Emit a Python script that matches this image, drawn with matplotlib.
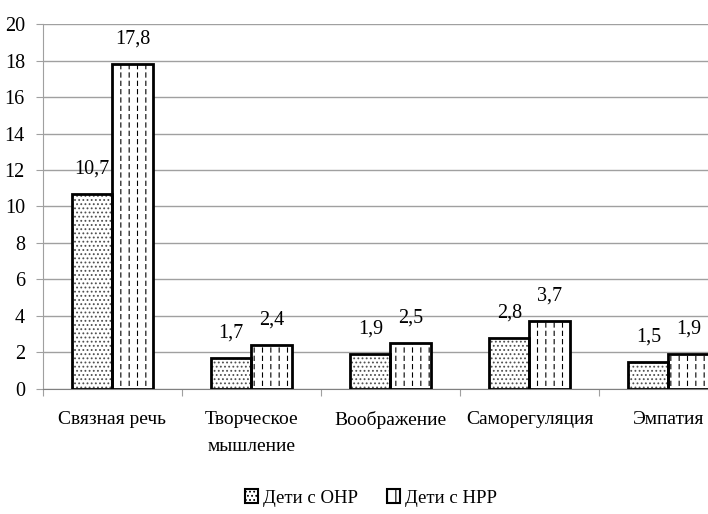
import matplotlib.pyplot as plt
from matplotlib.patches import Patch
import numpy as np

# Data
categories = ["Связная речь", "Творческое\nмышление", "Воображение", "Саморегуляция", "Эмпатия"]
onr = [10.7, 1.7, 1.9, 2.8, 1.5]
nrr = [17.8, 2.4, 2.5, 3.7, 1.9]
series_names = ["Дети с ОНР", "Дети с НРР"]
yticks = list(range(0, 21, 2))

plt.rcParams['font.family'] = ['Liberation Serif', 'DejaVu Serif']
plt.rcParams['hatch.linewidth'] = 0.8
fs = 14.5
grey = "#a0a0a0"

fig = plt.figure(figsize=(7.08, 5.14), dpi=100)
ax = fig.add_axes([0.0607, 0.2432, 0.9816, 0.7101])

x = np.arange(len(categories))
w = 0.29
# filled hatches
ax.bar(x - w/2, onr, w, color="white", edgecolor="#505050", hatch="....", linewidth=0, zorder=3)
ax.bar(x + w/2, nrr, w, color="white", edgecolor="black", hatch="||", linewidth=0, zorder=3)
# white dashes breaking the vertical lines
with plt.rc_context({"hatch.linewidth": 2.2}):
    gaps = ax.bar(x + w/2, nrr, w, color="none", edgecolor="white", hatch="--", linewidth=0, zorder=4)
for p in gaps:
    if hasattr(p, "set_hatch_linewidth"):
        p.set_hatch_linewidth(2.2)
# outlines
ax.bar(x - w/2, onr, w, color="none", edgecolor="black", linewidth=2, zorder=5)
ax.bar(x + w/2, nrr, w, color="none", edgecolor="black", linewidth=2, zorder=5)

# value labels
for xs, vals in [(x - w/2, onr), (x + w/2, nrr)]:
    for xi, v in zip(xs, vals):
        ax.annotate(f"{v:.1f}".replace(".", ","), (xi, v), xytext=(0, 18),
                    textcoords="offset points", ha="center", va="center", fontsize=fs)

ax.set_xlim(-0.5, len(categories) - 0.5)
ax.set_ylim(0, 20)
ax.set_yticks(yticks)
ax.set_yticklabels([str(t) for t in yticks], fontsize=fs)
ax.set_xticks(np.arange(-0.5, len(categories)))
ax.set_xticklabels([])
ax.set_xticks(x, minor=True)
ax.set_xticklabels(categories, minor=True, fontsize=fs - 0.5, linespacing=1.75)
ax.tick_params(axis="x", which="major", length=5, color=grey, direction="out")
ax.tick_params(axis="x", which="minor", length=0, pad=16)
ax.tick_params(axis="y", length=5, color=grey, pad=8)

ax.yaxis.grid(True, color=grey, linewidth=1)
ax.set_axisbelow(True)
for s in ["top", "right"]:
    ax.spines[s].set_visible(False)
ax.spines["left"].set_color(grey)
ax.spines["bottom"].set_color("#808080")

handles = [Patch(facecolor="white", edgecolor="black", hatch="....", linewidth=1.5),
           Patch(facecolor="white", edgecolor="black", hatch="||", linewidth=1.5)]
fig.legend(handles, series_names, loc="center", bbox_to_anchor=(371/708, 1 - 498/514),
           ncol=2, frameon=False, fontsize=fs - 1, handlelength=0.7, handleheight=0.7,
           handletextpad=0.3, columnspacing=1.5)

fig.savefig("out.png", dpi=100)
